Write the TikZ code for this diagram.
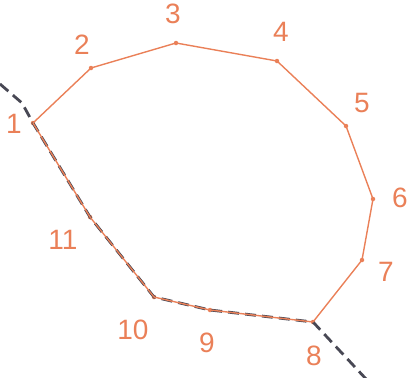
\documentclass[tikz,border=0pt]{standalone}
\usepackage{fontspec}
\setmainfont{Liberation Sans}
\begin{document}
\begin{tikzpicture}[x=1pt,y=-1pt,
  poly/.style={draw=orng,line width=1.4pt,line join=round},
  pt/.style={circle,fill=orng,inner sep=0pt,minimum size=4.5pt},
  lbl/.style={text=orng,font=\fontsize{28}{28}\selectfont,inner sep=0pt},
  bound/.style={draw=dgray,line width=2.8pt,dash pattern=on 11pt off 6pt}]
\definecolor{orng}{RGB}{234,128,88}
\definecolor{dgray}{RGB}{72,72,84}
\useasboundingbox (0,0) rectangle (408,378);
\node[pt] (p1) at (33,123) {};
\node[pt] (p2) at (91,68) {};
\node[pt] (p3) at (176,43) {};
\node[pt] (p4) at (277,61) {};
\node[pt] (p5) at (346,126) {};
\node[pt] (p6) at (373,199) {};
\node[pt] (p7) at (362,260) {};
\node[pt] (p8) at (313,322) {};
\node[pt] (p9) at (210,310) {};
\node[pt] (p10) at (154,297) {};
\node[pt] (p11) at (90,217) {};
\coordinate (s) at (0,84);
\coordinate (s2) at (22,103);
\coordinate (e) at (367,380);
\draw[bound] (s) -- (s2) -- (p1.center) -- (p11.center) -- (p10.center) -- (p9.center) -- (p8.center) -- (e);
\draw[poly] (p1.center) -- (p2.center) -- (p3.center) -- (p4.center) -- (p5.center) -- (p6.center) -- (p7.center) -- (p8.center) -- (p9.center) -- (p10.center) -- (p11.center) -- cycle;
\node[lbl] (l1) at (14,124) {1};
\node[lbl] (l2) at (82,45) {2};
\node[lbl] (l3) at (173,14) {3};
\node[lbl] (l4) at (281,32) {4};
\node[lbl] (l5) at (362,103) {5};
\node[lbl] (l6) at (400,198) {6};
\node[lbl] (l7) at (386,272) {7};
\node[lbl] (l8) at (314,356) {8};
\node[lbl] (l9) at (207,343) {9};
\node[lbl] (l10) at (133,330) {10};
\node[lbl] (l11) at (63,240) {11};
\end{tikzpicture}
\end{document}
